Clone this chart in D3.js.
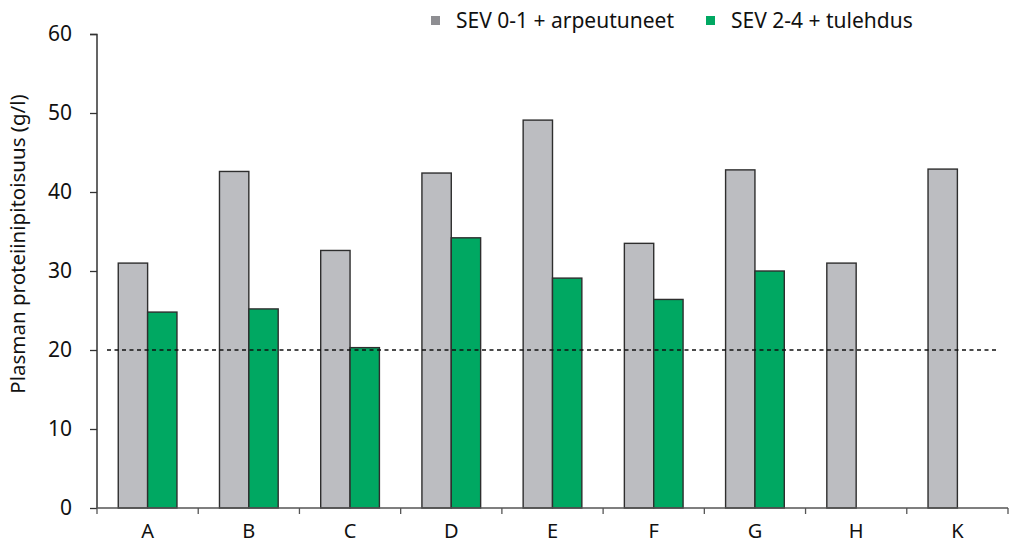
<!DOCTYPE html>
<html>
<head>
<meta charset="utf-8">
<script src="https://cdn.jsdelivr.net/npm/d3@7"></script>
<style>
  body { margin: 0; background: #fff; }
  svg text { font-family: "Noto Sans", "Open Sans", sans-serif; fill: #111; }
</style>
</head>
<body>
<div id="root"></div>
<script>
// Dati
const categories = ["A", "B", "C", "D", "E", "F", "G", "H", "K"];
const seriesNames = ["SEV 0-1 + arpeutuneet", "SEV 2-4 + tulehdus"];
const sev01 = [31.0, 42.6, 32.6, 42.4, 49.1, 33.5, 42.8, 31.0, 42.9];
const sev24 = [24.8, 25.2, 20.3, 34.2, 29.1, 26.4, 30.0, null, null];
const yTicks = [0, 10, 20, 30, 40, 50, 60];
const refLine = 20;
const colors = ["#bcbdc1", "#00a862"];

const width = 1012, height = 545;
const margin = { top: 34, right: 4, bottom: 37, left: 97 };
const innerW = width - margin.left - margin.right;
const innerH = height - margin.top - margin.bottom;

const svg = d3.select("#root").append("svg")
    .attr("width", width)
    .attr("height", height);

const g = svg.append("g")
    .attr("transform", `translate(${margin.left},${margin.top})`);

// Scale
const x0 = d3.scaleBand()
    .domain(categories)
    .range([0, 911])
    .paddingInner(0.42)
    .paddingOuter(0.21);

const x1 = d3.scaleBand()
    .domain([0, 1])
    .range([0, x0.bandwidth()]);

const y = d3.scaleLinear()
    .domain([0, 60])
    .range([innerH, 0]);

// Barre
const values = [sev01, sev24];
values.forEach((vals, s) => {
    g.append("g").selectAll("rect")
        .data(categories.map((c, i) => ({ c, v: vals[i] })).filter(d => d.v != null))
        .join("rect")
        .attr("x", d => x0(d.c) + x1(s))
        .attr("y", d => y(d.v))
        .attr("width", x1.bandwidth())
        .attr("height", d => innerH - y(d.v))
        .attr("fill", colors[s])
        .attr("stroke", "#2e2e2e")
        .attr("stroke-width", 1.4);
});

// Linea di riferimento
g.append("line")
    .attr("x1", 10)
    .attr("x2", 899)
    .attr("y1", y(refLine))
    .attr("y2", y(refLine))
    .attr("stroke", "#111")
    .attr("stroke-width", 1.6)
    .attr("stroke-dasharray", "4,3.5");

// Asse y
const yAxis = g.append("g")
    .call(d3.axisLeft(y).tickValues(yTicks).tickSize(7).tickPadding(18));
yAxis.select(".domain").attr("stroke", "#333").attr("stroke-width", 1.5).attr("d", `M-7,0.5H0V${innerH}`);
yAxis.selectAll(".tick line").attr("stroke", "#333").attr("stroke-width", 1.3);
yAxis.selectAll(".tick text").style("font-size", "21px").attr("fill", "#111");

// Asse x
const xAxis = g.append("g")
    .attr("transform", `translate(0,${innerH})`)
    .call(d3.axisBottom(x0).tickSize(0).tickPadding(16));
xAxis.select(".domain").attr("stroke", "#555").attr("stroke-width", 1.5).attr("d", "M0,0H911");
xAxis.selectAll(".tick text").style("font-size", "20px").attr("fill", "#111");
xAxis.selectAll(".sep")
    .data(d3.range(categories.length + 1))
    .join("line")
    .attr("class", "sep")
    .attr("x1", i => i * x0.step())
    .attr("x2", i => i * x0.step())
    .attr("y1", 0)
    .attr("y2", 6)
    .attr("stroke", "#555")
    .attr("stroke-width", 1.3);

// Titolo asse y
svg.append("text")
    .attr("transform", "translate(25,244) rotate(-90)")
    .attr("text-anchor", "middle")
    .style("font-size", "20.5px")
    .text("Plasman proteiinipitoisuus (g/l)");

// Legenda
const legendX = [431, 706];
seriesNames.forEach((name, i) => {
    svg.append("rect")
        .attr("x", legendX[i])
        .attr("y", 16)
        .attr("width", 9)
        .attr("height", 9)
        .attr("fill", i === 0 ? "#8e8e92" : colors[1]);
    svg.append("text")
        .attr("x", legendX[i] + 25)
        .attr("y", 28)
        .style("font-size", "21px")
        .text(name);
});
</script>
</body>
</html>
